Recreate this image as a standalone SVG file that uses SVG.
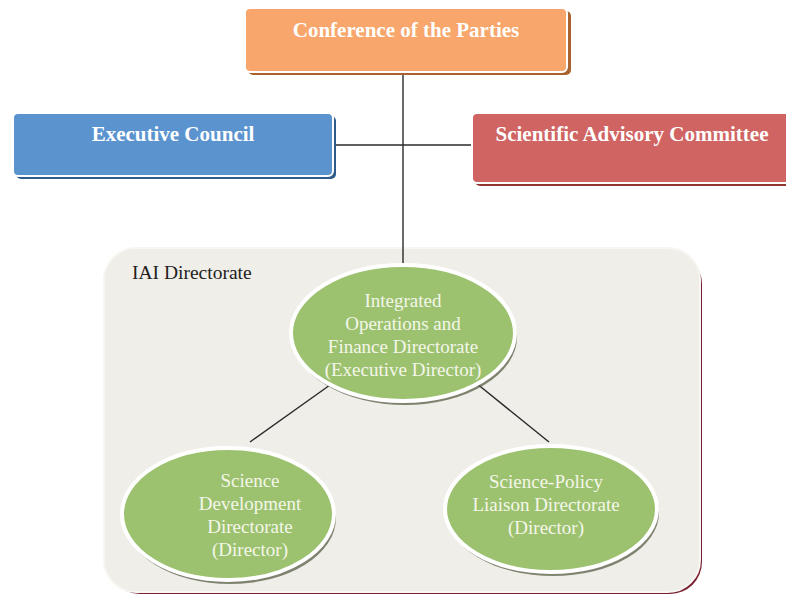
<svg xmlns="http://www.w3.org/2000/svg" width="786" height="596" viewBox="0 0 786 596">
  <style>
    .box-title { font-family: "Liberation Serif", "Times New Roman", serif; font-weight: bold; font-size: 21px; fill: #ffffff; text-anchor: middle; }
    .ell-text { font-family: "Liberation Serif", "Times New Roman", serif; font-size: 19px; fill: #f4f6ea; text-anchor: middle; }
    .label { font-family: "Liberation Serif", "Times New Roman", serif; font-size: 19.5px; fill: #222222; }
    .conn { stroke: #2a2a2a; stroke-width: 1.4; fill: none; }
    .ell { fill: #9cc26f; stroke: #ffffff; stroke-width: 4; }
    .ell-shadow { fill: #5a5f48; opacity: 0.75; }
  </style>
  <rect width="786" height="596" fill="#ffffff"/>

  <g id="container">
    <rect x="108" y="252" width="594" height="342" rx="32" fill="#7a2030"/>
    <rect x="104" y="248" width="596" height="344" rx="32" fill="#f0eee8" stroke="#f7f6f3" stroke-width="2"/>
    <text class="label" x="132" y="279">IAI Directorate</text>
  </g>

  <g id="connectors">
    <line class="conn" x1="403" y1="72" x2="403" y2="275"/>
    <line class="conn" x1="333" y1="145" x2="472" y2="145"/>
    <line class="conn" x1="330" y1="385" x2="250" y2="442"/>
    <line class="conn" x1="476" y1="383" x2="549" y2="442"/>
  </g>

  <g id="conference">
    <rect x="248" y="11" width="323" height="64" rx="5" fill="#a8622f"/>
    <rect x="245" y="8" width="322" height="64" rx="5" fill="#f8a66b" stroke="#ffffff" stroke-width="2"/>
    <text class="box-title" x="406" y="37">Conference of the Parties</text>
  </g>

  <g id="executive-council">
    <rect x="16" y="116" width="320" height="63" rx="5" fill="#2f5b8a"/>
    <rect x="13" y="113" width="320" height="63" rx="5" fill="#5b93cf" stroke="#ffffff" stroke-width="2"/>
    <text class="box-title" x="173" y="141">Executive Council</text>
  </g>

  <g id="scientific-advisory-committee">
    <rect x="475" y="116" width="320" height="70" rx="5" fill="#8f3532"/>
    <rect x="472" y="113" width="320" height="70" rx="5" fill="#cf6462" stroke="#ffffff" stroke-width="2"/>
    <text class="box-title" x="632" y="141">Scientific Advisory Committee</text>
  </g>

  <g id="integrated-operations">
    <ellipse class="ell-shadow" cx="405" cy="337" rx="112" ry="68"/>
    <ellipse class="ell" cx="403" cy="333" rx="112" ry="68"/>
    <text class="ell-text" x="403" y="307">Integrated</text>
    <text class="ell-text" x="403" y="330">Operations and</text>
    <text class="ell-text" x="403" y="353">Finance Directorate</text>
    <text class="ell-text" x="403" y="376">(Executive Director)</text>
  </g>

  <g id="science-development">
    <ellipse class="ell-shadow" cx="230" cy="518" rx="106" ry="66"/>
    <ellipse class="ell" cx="228" cy="514" rx="106" ry="66"/>
    <text class="ell-text" x="250" y="487">Science</text>
    <text class="ell-text" x="250" y="510">Development</text>
    <text class="ell-text" x="250" y="533">Directorate</text>
    <text class="ell-text" x="250" y="556">(Director)</text>
  </g>

  <g id="science-policy">
    <ellipse class="ell-shadow" cx="553" cy="513" rx="106" ry="63"/>
    <ellipse class="ell" cx="551" cy="509" rx="106" ry="63"/>
    <text class="ell-text" x="546" y="488">Science-Policy</text>
    <text class="ell-text" x="546" y="511">Liaison Directorate</text>
    <text class="ell-text" x="546" y="534">(Director)</text>
  </g>
</svg>
